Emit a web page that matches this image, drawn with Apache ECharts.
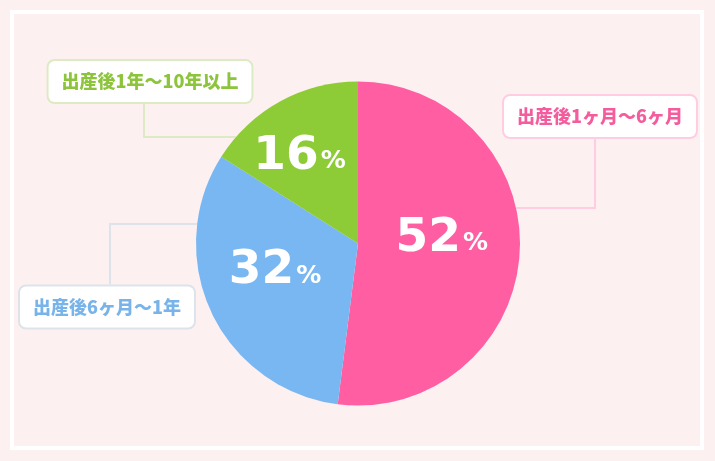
<!DOCTYPE html>
<html>
<head>
<meta charset="utf-8">
<title>出産後の期間</title>
<style>
html, body { margin: 0; padding: 0; background: #fdf0f1; }
#chart { width: 715px; height: 461px; }
</style>
</head>
<body>
<div id="chart"></div>
<script src="https://cdn.jsdelivr.net/npm/echarts@6/dist/echarts.min.js"></script>
<script>
// 出産後の期間 割合 (%)
var names = ['出産後1ヶ月〜6ヶ月', '出産後6ヶ月〜1年', '出産後1年〜10年以上'];
var values = [52, 32, 16];

var sliceColors = ['#ff5fa2', '#78b7f1', '#8dcb37'];
var textColors = ['#f45c9e', '#78b4ea', '#8cc43c'];
var boxBorders = ['#ffcde1', '#dde3ea', '#ddebc4'];

// pie geometry (px)
var cx = 358, cy = 243.5, R = 162;

// label box centres, and the elbow of each connector
var boxPos = [[600, 116.5], [107, 307], [150, 81.5]];
var elbow = [[595, 208], [110, 224], [144, 137]];
// nudge for the big percentages inside the slices
var innerShift = [[0, -10], [-7, -8], [-18, -13]];

var pieData = names.map(function (n, i) {
	return { name: n, value: values[i], itemStyle: { color: sliceColors[i] } };
});

var boxData = names.map(function (n, i) {
	return {
		name: n,
		value: values[i],
		label: { color: textColors[i], borderColor: boxBorders[i] },
		labelLine: { lineStyle: { color: boxBorders[i] } }
	};
});

var option = {
	backgroundColor: '#fdf0f1',
	animation: false,
	graphic: [{
		type: 'rect',
		z: 0,
		shape: { x: 12, y: 12, width: 690, height: 436 },
		style: { fill: 'none', stroke: '#fff', lineWidth: 4 }
	}],
	series: [
		{
			// 色付きの円と中の数値
			type: 'pie',
			center: [cx, cy],
			radius: R,
			startAngle: 90,
			clockwise: true,
			silent: true,
			avoidLabelOverlap: false,
			label: {
				position: 'inside',
				formatter: '{num|{c}}{pct|%}',
				rich: {
					num: { fontSize: 47, fontWeight: 'bold', color: '#fff', fontFamily: 'DejaVu Sans' },
					pct: { fontSize: 25, fontWeight: 'bold', color: '#fff', fontFamily: 'DejaVu Sans',
						verticalAlign: 'bottom', padding: [0, 0, 6, 2] }
				}
			},
			labelLine: { show: false },
			labelLayout: function (p) {
				var s = innerShift[p.dataIndex];
				return { dx: s[0], dy: s[1] };
			},
			data: pieData
		},
		{
			// 外側のラベルボックス
			type: 'pie',
			center: [cx, cy],
			radius: R,
			startAngle: 90,
			clockwise: true,
			silent: true,
			avoidLabelOverlap: false,
			itemStyle: { color: 'rgba(0,0,0,0)' },
			label: {
				position: 'outside',
				formatter: '{b}',
				fontSize: 18,
				fontWeight: 900,
				fontFamily: 'Noto Sans CJK JP',
				lineHeight: 20,
				backgroundColor: '#fff',
				borderWidth: 2,
				borderRadius: 6,
				padding: [11, 13, 10, 13]
			},
			labelLine: { show: true, length: 10, length2: 10, smooth: false, lineStyle: { width: 2 } },
			labelLayout: function (p) {
				var i = p.dataIndex;
				var b = boxPos[i], e = elbow[i];
				var half = p.labelRect.height / 2;
				var dx = Math.sqrt(R * R - (e[1] - cy) * (e[1] - cy));
				var edgeX = e[0] > cx ? cx + dx : cx - dx;
				var boxY = e[1] > b[1] ? b[1] + half : b[1] - half;
				return {
					x: b[0],
					y: b[1],
					align: 'center',
					verticalAlign: 'middle',
					labelLinePoints: [[edgeX, e[1]], [e[0], e[1]], [e[0], boxY]]
				};
			},
			data: boxData
		}
	]
};

var chart = echarts.init(document.getElementById('chart'));
chart.setOption(option);
</script>
</body>
</html>
